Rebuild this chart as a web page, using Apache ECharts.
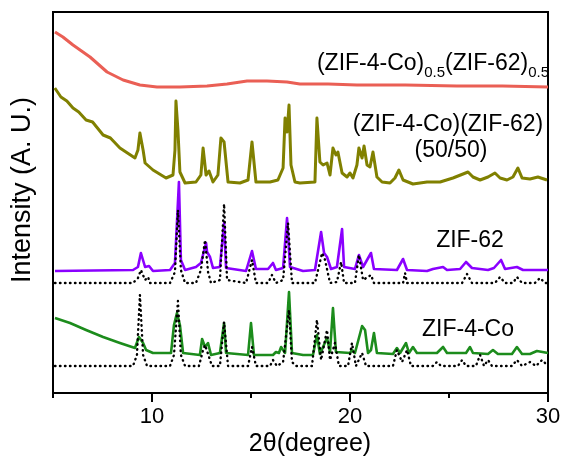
<!DOCTYPE html>
<html>
<head>
<meta charset="utf-8">
<script src="https://cdn.jsdelivr.net/npm/echarts@6/dist/echarts.min.js"></script>
<style>html,body{margin:0;padding:0;background:#fff}#c{width:564px;height:460px}</style>
</head>
<body>
<div id="c"></div>
<script>
// x: 2θ (degree); y: intensity (arbitrary units, curves offset vertically)
const xTickMajor = [10, 20, 30];
const xTickMinor = [5, 15, 25];

const amorphX = [5.10, 5.5, 6.01, 6.87, 7.73, 8.54, 9.39, 10.25, 11.41, 12.78, 13.79, 14.80, 15.81, 16.82, 17.47, 18.9, 20.35, 22.8, 25.40, 27.7, 30.00];
const amorphY = [361, 356, 348, 336, 321, 313, 308, 306, 306, 307, 309, 312, 312, 311, 309, 309, 308, 308, 307, 307, 306];

const mixX = [5.09, 5.4, 5.7, 6.01, 6.3, 6.67, 7.0, 7.53, 7.9, 8.38, 9.14, 9.29, 9.39, 9.55, 9.65, 10.05, 10.71, 11.06, 11.16, 11.21, 11.31, 11.41, 11.67, 12.22, 12.47, 12.58, 12.73, 12.88, 13.08, 13.33, 13.48, 13.64, 13.69, 13.84, 14.44, 14.85, 15.05, 15.25, 15.96, 16.36, 16.62, 16.72, 16.82, 16.92, 17.02, 17.22, 17.47, 18.23, 18.33, 18.48, 18.64, 18.84, 18.99, 19.14, 19.29, 19.39, 19.60, 19.85, 20.00, 20.15, 20.35, 20.45, 20.61, 20.71, 20.86, 21.01, 21.16, 21.36, 21.62, 22.02, 22.27, 22.47, 22.68, 23.18, 23.89, 24.55, 25.20, 25.71, 25.96, 26.21, 26.57, 26.97, 27.32, 27.58, 27.93, 28.23, 28.48, 28.69, 29.09, 29.49, 29.95];
const mixY = [305, 296, 292, 285, 281, 273, 271, 258, 255, 245, 235, 243, 260, 243, 230, 223, 215, 218, 243, 292, 263, 221, 210, 211, 218, 245, 218, 222, 211, 218, 255, 251, 241, 211, 210, 213, 251, 211, 211, 213, 225, 275, 261, 288, 228, 211, 210, 211, 275, 231, 228, 230, 218, 245, 238, 241, 220, 216, 220, 215, 228, 245, 235, 247, 228, 226, 241, 216, 211, 210, 215, 223, 213, 209, 211, 211, 215, 219, 221, 216, 213, 216, 220, 215, 213, 216, 225, 215, 214, 216, 213];

const zif62X = [5.10, 9.04, 9.29, 9.44, 9.65, 9.85, 9.90, 10.05, 10.91, 11.16, 11.36, 11.46, 11.67, 12.22, 12.47, 12.73, 12.78, 12.93, 13.08, 13.43, 13.64, 13.74, 14.75, 15.05, 15.25, 15.86, 16.11, 16.26, 16.62, 16.82, 16.97, 17.63, 18.23, 18.54, 18.69, 18.84, 19.04, 19.34, 19.60, 19.70, 20.25, 20.45, 20.66, 21.06, 21.21, 22.37, 22.68, 22.88, 23.89, 24.19, 24.70, 24.90, 25.56, 25.86, 26.16, 26.97, 27.27, 27.63, 27.83, 28.43, 28.74, 30.00];
const zif62Y = [122, 123, 126, 140, 126, 127, 125, 122, 123, 130, 211, 133, 123, 126, 130, 150, 141, 136, 125, 126, 170, 125, 122, 142, 124, 124, 130, 123, 125, 175, 126, 122, 123, 161, 140, 136, 124, 126, 164, 126, 124, 138, 126, 140, 124, 123, 134, 123, 122, 124, 126, 123, 124, 131, 125, 123, 125, 133, 124, 126, 123, 123];

const sim62X = [5.10, 9.04, 9.29, 9.44, 9.65, 9.80, 9.90, 10.91, 11.16, 11.31, 11.46, 11.67, 12.22, 12.47, 12.68, 12.83, 12.98, 13.43, 13.64, 13.79, 14.75, 15.05, 15.25, 15.86, 16.06, 16.26, 16.62, 16.87, 17.07, 18.23, 18.59, 18.74, 18.99, 19.34, 19.55, 19.70, 20.25, 20.45, 20.66, 21.06, 21.21, 22.68, 22.78, 22.88, 25.66, 25.91, 26.16, 27.32, 27.58, 27.83, 28.23, 28.43, 28.69, 29.34, 29.60, 29.85, 30.00];
const sim62Y = [110, 110, 115, 123, 113, 116, 110, 110, 121, 183, 123, 110, 110, 123, 153, 121, 110, 113, 189, 113, 110, 133, 110, 110, 118, 110, 113, 170, 110, 110, 140, 133, 110, 111, 131, 110, 110, 138, 113, 118, 110, 110, 120, 110, 110, 119, 110, 110, 116, 110, 110, 116, 110, 110, 115, 110, 110];

const zif4X = [5.10, 5.86, 6.67, 7.53, 8.38, 9.14, 9.34, 9.55, 9.70, 10.05, 10.96, 11.11, 11.26, 11.41, 11.57, 12.42, 12.53, 12.68, 12.83, 12.98, 13.43, 13.64, 13.74, 14.85, 15.00, 15.15, 16.11, 16.26, 16.41, 16.52, 16.72, 16.92, 17.07, 17.63, 18.13, 18.33, 18.48, 18.84, 18.99, 19.14, 19.29, 20.00, 20.10, 20.25, 20.61, 20.76, 20.91, 21.06, 21.21, 21.36, 22.17, 22.37, 22.53, 22.83, 22.98, 23.18, 23.38, 24.39, 24.70, 24.90, 25.86, 26.06, 26.21, 26.97, 27.22, 27.47, 28.18, 28.43, 28.69, 29.09, 29.44, 30.00];
const zif4Y = [75, 70, 63, 56, 50, 45, 56, 50, 43, 40, 40, 68, 80, 68, 40, 38, 54, 46, 50, 38, 40, 70, 40, 38, 70, 38, 38, 41, 40, 46, 40, 101, 40, 38, 38, 58, 39, 55, 41, 85, 41, 40, 43, 40, 67, 63, 40, 43, 60, 40, 39, 45, 40, 50, 40, 46, 40, 40, 46, 40, 40, 46, 40, 39, 43, 39, 39, 46, 39, 39, 42, 40];

const sim4X = [5.10, 9.04, 9.24, 9.39, 9.55, 9.75, 10.91, 11.11, 11.31, 11.46, 11.67, 12.37, 12.58, 12.68, 12.78, 12.88, 13.03, 13.43, 13.64, 13.84, 14.85, 15.05, 15.25, 15.96, 16.11, 16.31, 16.62, 16.72, 16.92, 17.07, 17.27, 18.08, 18.33, 18.54, 18.84, 18.99, 19.24, 19.44, 19.90, 20.10, 20.30, 20.61, 20.81, 22.17, 22.37, 22.63, 22.88, 23.08, 24.19, 24.39, 24.60, 25.45, 25.66, 25.86, 26.36, 26.57, 26.77, 26.97, 27.17, 28.18, 28.43, 28.69, 29.09, 29.39, 29.70, 30.00];
const sim4Y = [27, 27, 38, 98, 38, 27, 27, 38, 92, 38, 27, 27, 43, 48, 46, 36, 27, 27, 71, 27, 27, 46, 27, 27, 33, 27, 31, 33, 83, 31, 27, 27, 73, 33, 63, 33, 50, 27, 27, 50, 27, 40, 27, 27, 43, 31, 43, 27, 27, 31, 27, 27, 33, 27, 27, 38, 27, 33, 27, 27, 33, 27, 31, 27, 33, 27];

const pairs = (xs, ys) => xs.map((x, i) => [x, ys[i]]);
const FONT = '"Liberation Sans", Arial, sans-serif';

function line(name, xs, ys, color, width, dash, z) {
  return {
    name, type: 'line', data: pairs(xs, ys), showSymbol: false, symbol: 'none',
    xAxisIndex: 0, yAxisIndex: 0, z: z, silent: true, animation: false,
    lineStyle: { color, width, type: dash || 'solid', cap: dash ? 'round' : 'butt', join: 'round' }
  };
}

const chart = echarts.init(document.getElementById('c'), null, { renderer: 'canvas' });
chart.setOption({
  animation: false,
  backgroundColor: '#ffffff',
  grid: { left: 53, right: 16, top: 12, bottom: 67, show: true, borderColor: '#000', borderWidth: 2, backgroundColor: 'transparent' },
  xAxis: [
    {
      type: 'value', min: 5, max: 30, gridIndex: 0,
      axisLine: { show: true, lineStyle: { color: '#000', width: 2 } },
      axisTick: { show: true, inside: false, length: 9, lineStyle: { color: '#000', width: 2 }, customValues: xTickMajor },
      axisLabel: { show: true, customValues: xTickMajor, color: '#000', fontSize: 22, fontFamily: FONT, margin: 13 },
      splitLine: { show: false }
    },
    {
      type: 'value', min: 5, max: 30, gridIndex: 0, position: 'bottom',
      axisLine: { show: false },
      axisTick: { show: true, inside: false, length: 5, lineStyle: { color: '#000', width: 2 }, customValues: xTickMinor },
      axisLabel: { show: false },
      splitLine: { show: false }
    }
  ],
  yAxis: {
    type: 'value', min: 0, max: 381,
    axisLine: { show: true, lineStyle: { color: '#000', width: 2 } },
    axisTick: { show: false }, axisLabel: { show: false }, splitLine: { show: false }
  },
  series: [
    line('(ZIF-4-Co)0.5(ZIF-62)0.5', amorphX, amorphY, '#ea5f55', 3, null, 2),
    line('(ZIF-4-Co)(ZIF-62) (50/50)', mixX, mixY, '#808000', 3, null, 2),
    line('ZIF-62', zif62X, zif62Y, '#8a00ff', 2.6, null, 2),
    line('ZIF-4-Co', zif4X, zif4Y, '#1c8c1c', 2.6, null, 2),
    line('ZIF-62 simulated', sim62X, sim62Y, '#000', 2.4, [0.5, 4.5], 3),
    line('ZIF-4-Co simulated', sim4X, sim4Y, '#000', 2.4, [0.5, 4.5], 3)
  ],
  graphic: [
    { type: 'text', x: 310, y: 444, style: { text: '2θ(degree)', fill: '#000', font: '25px ' + FONT, align: 'center', verticalAlign: 'middle' } },
    { type: 'text', x: 23, y: 190, rotation: Math.PI / 2, style: { text: 'Intensity (A. U.)', fill: '#000', font: '27px ' + FONT, align: 'center', verticalAlign: 'middle' } },
    { type: 'text', x: 549, y: 52, z: 10, style: {
        text: '{m|(ZIF-4-Co)}{s|0.5}{m|(ZIF-62)}{s|0.5}', align: 'right', verticalAlign: 'top',
        rich: {
          m: { fontSize: 23, fontFamily: FONT, fill: '#000', lineHeight: 28, verticalAlign: 'top' },
          s: { fontSize: 15, fontFamily: FONT, fill: '#000', lineHeight: 15, verticalAlign: 'top', padding: [13, 0, 0, 0] }
        } } },
    { type: 'text', x: 448, y: 125, z: 10, style: { text: '(ZIF-4-Co)(ZIF-62)', fill: '#000', font: '23px ' + FONT, align: 'center', verticalAlign: 'middle' } },
    { type: 'text', x: 451, y: 151, z: 10, style: { text: '(50/50)', fill: '#000', font: '23px ' + FONT, align: 'center', verticalAlign: 'middle' } },
    { type: 'text', x: 470, y: 241, z: 10, style: { text: 'ZIF-62', fill: '#000', font: '23px ' + FONT, align: 'center', verticalAlign: 'middle' } },
    { type: 'text', x: 468, y: 330, z: 10, style: { text: 'ZIF-4-Co', fill: '#000', font: '23px ' + FONT, align: 'center', verticalAlign: 'middle' } }
  ]
});
</script>
</body>
</html>
